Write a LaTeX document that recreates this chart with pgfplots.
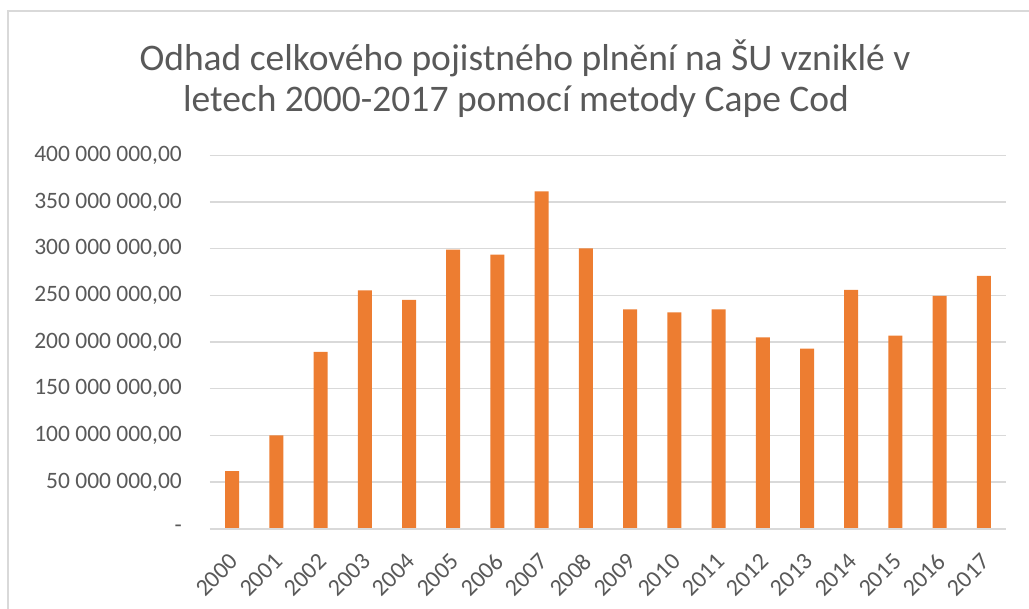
\documentclass[border=0pt]{standalone}
\usepackage{pgfplots}
\pgfplotsset{compat=1.18}
\usepackage{fontspec}
\setmainfont{Carlito}
\definecolor{barorange}{HTML}{ED7D31}
\definecolor{gridgray}{HTML}{D9D9D9}
\definecolor{textgray}{HTML}{595959}
\begin{document}
\begin{tikzpicture}[x=1pt,y=1pt]
\useasboundingbox (0,0) rectangle (1029,609);
% chart area border
\draw[gridgray, line width=1.5pt] (8,-5) -- (8,598) -- (1040,598);
% title
\node[anchor=base, text=textgray, font=\fontsize{37.5}{45}\selectfont] at (525,538) {Odhad celkového pojistného plnění na ŠU vzniklé v};
\node[anchor=base, text=textgray, font=\fontsize{37.5}{45}\selectfont] at (516,497) {letech 2000-2017 pomocí metody Cape Cod};
\begin{axis}[
  at={(210pt,80.3pt)}, anchor=south west,
  scale only axis, width=796pt, height=373.4pt,
  xmin=-0.5, xmax=17.5, ymin=0, ymax=4e8,
  scaled y ticks=false,
  axis line style={draw=none},
  major tick length=0pt,
  ymajorgrids, grid style={gridgray, line width=1.5pt},
  ytick={0,5e7,1e8,1.5e8,2e8,2.5e8,3e8,3.5e8,4e8},
  yticklabels={{-\hspace{10pt}},{50 000 000,00},{100 000 000,00},{150 000 000,00},{200 000 000,00},{250 000 000,00},{300 000 000,00},{350 000 000,00},{400 000 000,00}},
  yticklabel style={anchor=east, inner sep=0pt, xshift=-28pt, text=textgray, font=\fontsize{23.5}{28}\selectfont},
  xtick={0,...,17},
  xticklabels={2000,2001,2002,2003,2004,2005,2006,2007,2008,2009,2010,2011,2012,2013,2014,2015,2016,2017},
  xticklabel style={yshift=-29pt, xshift=2pt, rotate=45, anchor=east, inner sep=0pt, text=textgray, font=\fontsize{24}{28}\selectfont},
  clip=false,
]
\addplot[ybar, bar width=14pt, fill=barorange, draw=none] coordinates {
(0,61.8e6) (1,100.0e6) (2,189.3e6) (3,255.4e6) (4,245.0e6) (5,298.9e6)
(6,293.5e6) (7,361.4e6) (8,300.4e6) (9,235.0e6) (10,231.8e6) (11,235.0e6)
(12,205.0e6) (13,192.8e6) (14,255.7e6) (15,206.7e6) (16,249.3e6) (17,270.7e6)
};
\draw[gridgray, line width=2pt] (axis cs:-0.5,0) -- (axis cs:17.5,0);
\end{axis}
\end{tikzpicture}
\end{document}
